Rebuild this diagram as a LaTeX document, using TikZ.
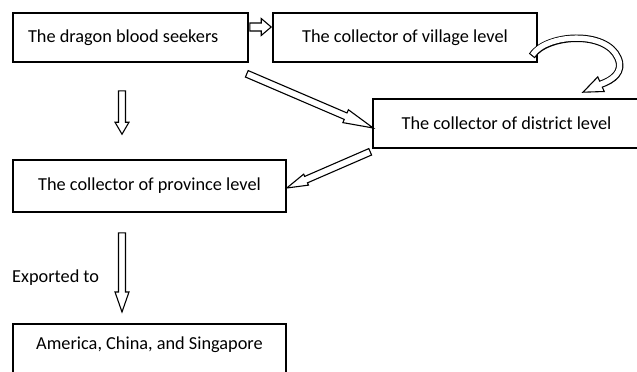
\documentclass[tikz,border=0pt]{standalone}
\usepackage{fontspec}
\setmainfont{Carlito}
\usetikzlibrary{calc}
\tikzset{
  x=1pt, y=-1pt,
  box/.style={draw, line width=1.6pt, rectangle, inner sep=0pt, font=\fontsize{18.3}{22}\selectfont},
  lbl/.style={inner sep=0pt, font=\fontsize{18.3}{22}\selectfont},
  harrow/.style={draw, line width=1.1pt, fill=white, line join=miter},
}
\newcommand\hollowarrow[5]{%
  \coordinate (hb) at ($(#2)!#5!(#1)$);
  \path[harrow] ($(#1)!#3!90:(#2)$) -- ($(hb)!#3!90:(#2)$) -- ($(hb)!#4!90:(#2)$) -- (#2)
    -- ($(hb)!#4!-90:(#2)$) -- ($(hb)!#3!-90:(#2)$) -- ($(#1)!#3!-90:(#2)$) -- cycle;
}
\begin{document}
\begin{tikzpicture}
\useasboundingbox (0,0) rectangle (637,372);
\node[box, minimum width=235pt, minimum height=49pt, align=flush left, text width=205pt, inner xsep=15pt] (n1) at (130.5,37.5) {The dragon blood seekers};
\node[box, minimum width=264pt, minimum height=49pt] (n2) at (405,37.5) {The collector of village level};
\node[box, minimum width=267pt, minimum height=49pt] (n3) at (506.5,123.5) {The collector of district level};
\node[box, minimum width=273pt, minimum height=52pt] (n4) at (149.5,186) {The collector of province level};
\node[box, minimum width=273pt, text height=26pt, text depth=31pt, inner ysep=0pt, anchor=north] (n5) at (149.5,323) {America, China, and Singapore};
\node[lbl, anchor=west] (ex) at (12,278) {Exported to};

% straight hollow arrows
\coordinate (a1s) at ($(n1.east)+(1,-10.5)$);
\coordinate (a1e) at ($(n2.west)+(-1,-10.5)$);
\hollowarrow{a1s}{a1e}{4pt}{8.5pt}{10pt}
\coordinate (a2s) at ($(n1.south east)+(-2,11)$);
\coordinate (a2e) at ($(n3.west)+(1,4.5)$);
\hollowarrow{a2s}{a2e}{3.5pt}{7pt}{30pt}
\coordinate (a3s) at ($(n3.south west)+(-2,3)$);
\coordinate (a3e) at ($(n4.east)+(0,2)$);
\hollowarrow{a3s}{a3e}{3.5pt}{6pt}{21pt}
\coordinate (a4s) at ($(n1.south)+(-8.5,28)$);
\coordinate (a4e) at ($(n4.north)+(-27.5,-25)$);
\hollowarrow{a4s}{a4e}{3.5pt}{7pt}{12pt}
\coordinate (a5s) at ($(n4.south)+(-27.5,20)$);
\coordinate (a5e) at ($(n5.north)+(-27.5,-11)$);
\hollowarrow{a5s}{a5e}{3.5pt}{7pt}{20pt}

% curved hollow arrow from village to district
\coordinate (cs) at ($(n2.east)+(-6,18.5)$);
\coordinate (ct) at ($(n3.north)+(76.5,-6)$);
\coordinate (cb) at ($(ct)+(18,-8)$);
\path[harrow] ($(cb)!8pt!90:(ct)$) -- (ct) -- ($(cb)!8pt!-90:(ct)$) -- cycle;
\draw[line width=7.5pt] (cs) .. controls (546,34) and (606,30) .. (618,58) .. controls (624,72) and (613,80) .. (cb);
\draw[white, line width=5.3pt, shorten <=1.2pt, shorten >=-2pt] (cs) .. controls (546,34) and (606,30) .. (618,58) .. controls (624,72) and (613,80) .. (cb);
\end{tikzpicture}
\end{document}
